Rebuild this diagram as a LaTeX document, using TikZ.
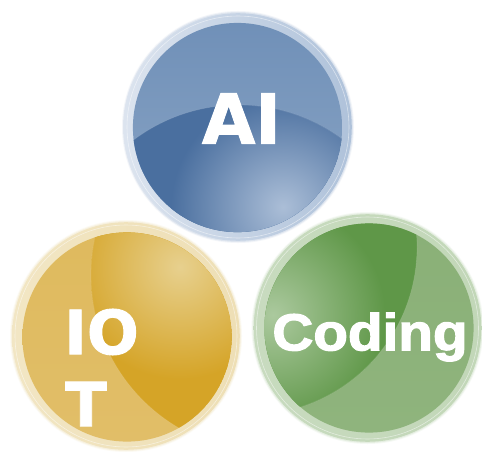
\documentclass[tikz,border=0pt]{standalone}
\usepackage{fontspec}
\newfontfamily\dejab[FakeBold=1.5]{DejaVu Sans Bold}
\newfontfamily\arialb[FakeBold=2.2]{Liberation Sans Bold}
\definecolor{bBase}{HTML}{4A6F9F}\definecolor{bGlow}{HTML}{ABBED7}
\definecolor{bTop}{HTML}{7090B8}\definecolor{bLow}{HTML}{8AA5C5}
\definecolor{bRimA}{HTML}{DCE4EF}\definecolor{bRimB}{HTML}{AFC2DA}
\definecolor{yBase}{HTML}{D5A427}\definecolor{yGlow}{HTML}{E7D08E}
\definecolor{yTop}{HTML}{DFBA5E}\definecolor{yLow}{HTML}{E1BE68}
\definecolor{yRimA}{HTML}{F2E6C4}\definecolor{yRimB}{HTML}{EEDFB5}
\definecolor{gBase}{HTML}{5F9748}\definecolor{gGlow}{HTML}{ABC99E}
\definecolor{gTop}{HTML}{8AB077}\definecolor{gLow}{HTML}{8FB47D}
\definecolor{gRimA}{HTML}{C8DBBF}\definecolor{gRimB}{HTML}{C2D7B8}
\tikzset{
  label text/.style={text=white,inner sep=0pt,anchor=center},
}
\newcommand{\bubble}[9]{%
  \coordinate (disc) at (#2,#3);
  \coordinate (rim) at (#4,#5);
  \fill[#1RimB,opacity=.15] (rim) circle[radius=116pt];
  \fill[#1RimB,opacity=.3] (rim) circle[radius=115pt];
  \shade[shading angle=135,left color=#1RimA,right color=#1RimB] (rim) circle[radius=113.8pt];
  \draw[white,opacity=.5,line width=.6pt] (rim) circle[radius=111pt];
  \begin{scope}
    \clip (disc) circle[radius=104.6pt];
    \shade[top color=#1Top,bottom color=#1Low] (disc) circle[radius=104.6pt];
    \begin{scope}
      \clip (#6,#7) circle[radius=#8pt];
      \fill[#1Base] (disc) circle[radius=105pt];
      \shade[inner color=#1Glow,outer color=#1Base] (#9) circle[radius=112pt];
    \end{scope}
    \draw[white,opacity=.1,line width=.8pt] (#6,#7) circle[radius=#8pt];
  \end{scope}
}
\begin{document}
\begin{tikzpicture}[x=1pt,y=-1pt]
\useasboundingbox (0,0) rectangle (482,452);
\fill[white] (0,0) rectangle (482,452);
\coordinate (blueGlow) at (283,207);
\coordinate (yellowGlow) at (180,267);
\coordinate (greenGlow) at (273,315);
\bubble{g}{369}{328}{367.5}{328}{249}{247}{168}{greenGlow}
\bubble{y}{127}{337}{126}{336}{268}{275}{177}{yellowGlow}
\bubble{b}{237.5}{127.5}{238}{127}{238.5}{279.5}{174.5}{blueGlow}
\node[label text,font=\dejab\fontsize{69}{69}\selectfont] (ai) at (241.5,118.5) {AI};
\node[label text,font=\dejab\fontsize{61}{61}\selectfont] (io) at (101.5,332) {IO};
\node[label text,font=\dejab\fontsize{61}{61}\selectfont] (t) at (86,404) {T};
\node[label text,font=\arialb\fontsize{52}{52}\selectfont,xscale=1.09] (coding) at (370,337) {Coding};
\end{tikzpicture}
\end{document}
